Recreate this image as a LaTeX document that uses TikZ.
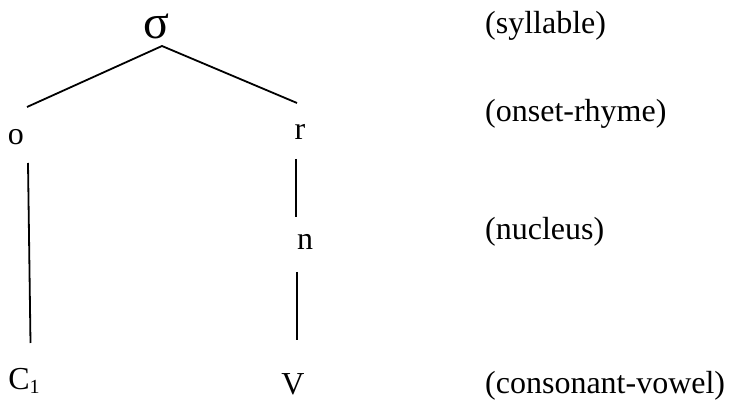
\documentclass[tikz,border=0pt]{standalone}
\usepackage{fontspec}
\setmainfont{Liberation Serif}
\begin{document}
\begin{tikzpicture}[x=1pt,y=-1pt,
  lbl/.style={inner sep=0pt, anchor=base west, font=\fontsize{32}{36}\selectfont},
  tnode/.style={inner sep=0pt, anchor=base, font=\fontsize{32}{36}\selectfont},
  link/.style={line width=1.8pt}]
\useasboundingbox[fill=white] (0,0) rectangle (742,403);
% tree nodes
\node[tnode, font=\fontsize{48}{52}\selectfont] (sig) at (156,39) {σ};
\node[tnode] (o) at (16,145) {o};
\node[tnode] (r) at (300,140) {r};
\node[tnode] (n) at (305,250) {n};
\node[tnode] (V) at (293,395) {V};
\node[tnode] (C) at (24,389) {C\raisebox{-5pt}{\fontsize{20}{22}\selectfont 1}};
% connector end points
\coordinate (apex) at (162,46);
\coordinate (oend) at (27,107);
\coordinate (rend) at (297,103);
\coordinate (otop) at (28,163);
\coordinate (cbot) at (30.5,343);
\coordinate (rbot) at (296,159);
\coordinate (ntop) at (296,217);
\coordinate (nbot) at (297,272);
\coordinate (vtop) at (297,340);
% connectors
\draw[link] (oend) -- (apex) -- (rend);
\draw[link] (otop) -- (cbot);
\draw[link] (rbot) -- (ntop);
\draw[link] (nbot) -- (vtop);
% level labels
\node[lbl] (l1) at (485,33.5) {(syllable)};
\node[lbl] (l2) at (485,122) {(onset-rhyme)};
\node[lbl] (l3) at (485,240) {(nucleus)};
\node[lbl] (l4) at (485,394) {(consonant-vowel)};
\end{tikzpicture}
\end{document}
